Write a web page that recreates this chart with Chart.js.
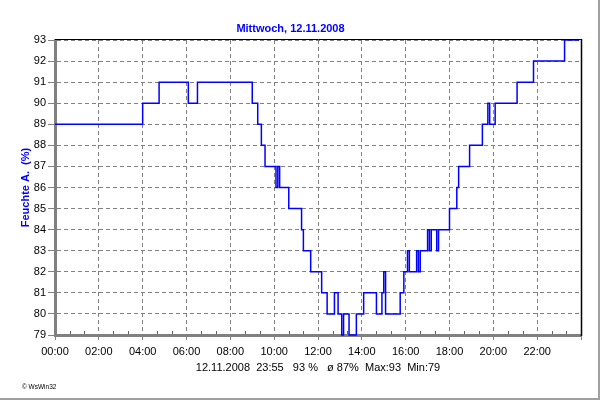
<!DOCTYPE html>
<html lang="de">
<head>
  <meta charset="UTF-8" />
  <title>Feuchte A. - Mittwoch, 12.11.2008</title>
  <script src="https://cdn.jsdelivr.net/npm/chart.js"></script>
  <style>
    body { margin: 0; background: #fff; }
    #wrap { position: relative; width: 600px; height: 400px; }
    #frame { position: absolute; left: 0; top: 0; width: 600px; height: 400px; box-sizing: border-box;
             border-right: 2px solid #a0a0a0; border-bottom: 2px solid #a0a0a0; pointer-events: none; }
    #logo { position: absolute; left: 22px; top: 383px; font: 6.5px "Liberation Sans", Arial, sans-serif; color: #000; }
  </style>
</head>
<body>
<div id="wrap">
  <canvas id="chart" width="600" height="400"></canvas>
  <div id="logo">© WsWin32</div>
  <div id="frame"></div>
</div>

<script>
  // humidity readings: time of change -> new value (5 min log, WsWin32)
  const times = ['00:00','04:00','04:45','06:05','06:30','09:00','09:15','09:25','09:35','10:05',
                 '10:10','10:15','10:40','11:15','11:20','11:40','12:10','12:25','12:45','12:55',
                 '13:05','13:10','13:25','13:45','14:05','14:40','14:55','15:00','15:05','15:45',
                 '15:55','16:05','16:10','16:30','16:35','16:40','17:00','17:05','17:10','17:25',
                 '17:30','18:00','18:20','18:25','18:55','19:30','19:45','19:50','20:05','21:05',
                 '21:50','23:15','23:55'];
  const values = [89, 90, 91, 90, 91, 90, 89, 88, 87, 86,
                  87, 86, 85, 84, 83, 82, 81, 80, 81, 80,
                  79, 80, 79, 80, 81, 80, 81, 82, 80, 81,
                  82, 83, 82, 83, 82, 83, 84, 83, 84, 83,
                  84, 85, 86, 87, 88, 89, 90, 89, 90, 91,
                  92, 93, 93];

  const xLabels = ['00:00','02:00','04:00','06:00','08:00','10:00','12:00','14:00','16:00','18:00','20:00','22:00'];
  const yMin = 79, yMax = 93;

  const titleText = 'Mittwoch, 12.11.2008';
  const yTitle = 'Feuchte A.  (%)';
  const statsLine = '12.11.2008  23:55   93 %   ø 87%  Max:93  Min:79';

  const toMin = (s) => { const [h, m] = s.split(':').map(Number); return h * 60 + m; };
  const points = times.map((t, i) => ({ x: toMin(t), y: values[i] }));

  Chart.defaults.font.family = '"Liberation Sans", Arial, sans-serif';
  Chart.defaults.font.size = 11;
  Chart.defaults.color = '#000';

  // black top/right edge of the plot box + small minor ticks on the time axis
  const framePlugin = {
    id: 'frame',
    afterDraw(chart) {
      const { ctx, chartArea: a, scales } = chart;
      ctx.save();
      ctx.strokeStyle = '#606060';
      ctx.lineWidth = 1;
      ctx.beginPath();
      for (let m = 40; m < 1440; m += 40) {
        if (m % 120 === 0) continue;
        const x = Math.round(scales.x.getPixelForValue(m)) + 0.5;
        ctx.moveTo(x, a.bottom - 1);
        ctx.lineTo(x, a.bottom - 4);
      }
      ctx.stroke();
      ctx.strokeStyle = '#000';
      ctx.beginPath();
      ctx.moveTo(a.left, a.top - 0.5);
      ctx.lineTo(a.right + 1, a.top - 0.5);
      ctx.stroke();
      ctx.lineWidth = 1.5;
      ctx.beginPath();
      ctx.moveTo(a.right + 0.5, a.top - 1);
      ctx.lineTo(a.right + 0.5, a.bottom + 1);
      ctx.stroke();
      ctx.restore();
    }
  };

  new Chart(document.getElementById('chart'), {
    type: 'line',
    data: {
      datasets: [{
        data: points,
        borderColor: '#0000ff',
        borderWidth: 1.5,
        pointRadius: 0,
        stepped: 'before',
        fill: false,
        clip: 3
      }]
    },
    options: {
      responsive: false,
      animation: false,
      layout: { padding: { top: 0, right: 19, bottom: 0, left: 0 } },
      plugins: {
        legend: { display: false },
        tooltip: { enabled: false },
        title: {
          display: true, text: titleText, color: '#0000ff',
          font: { size: 11, weight: 'bold' },
          padding: { top: 22, bottom: 4.8 }
        },
        subtitle: {
          display: true, text: statsLine, position: 'bottom', fullSize: false,
          color: '#000', font: { size: 11 },
          padding: { top: 0, bottom: 25.4 }
        }
      },
      scales: {
        x: {
          type: 'linear', min: 0, max: 1440,
          afterFit: (s) => { s.height = 26.4; },
          ticks: {
            stepSize: 120, autoSkip: false, maxRotation: 0, padding: 5,
            callback: (v) => xLabels[v / 120] ?? ''
          },
          grid: { color: '#808080', lineWidth: 1, tickLength: 5, tickColor: '#808080', tickBorderDash: [] },
          border: { color: '#808080', width: 3, dash: [4, 3] }
        },
        y: {
          min: yMin, max: yMax,
          afterFit: (s) => { s.width = 55; },
          ticks: { stepSize: 1, padding: 2 },
          grid: { color: '#808080', lineWidth: 1, tickLength: 7, tickColor: '#808080', tickBorderDash: [] },
          border: { color: '#808080', width: 3, dash: [4, 3] },
          title: {
            display: true, text: yTitle, color: '#0000ff',
            font: { size: 11, weight: 'bold' },
            padding: { top: 19, bottom: 0 }
          }
        }
      }
    },
    plugins: [framePlugin]
  });
</script>
</body>
</html>
